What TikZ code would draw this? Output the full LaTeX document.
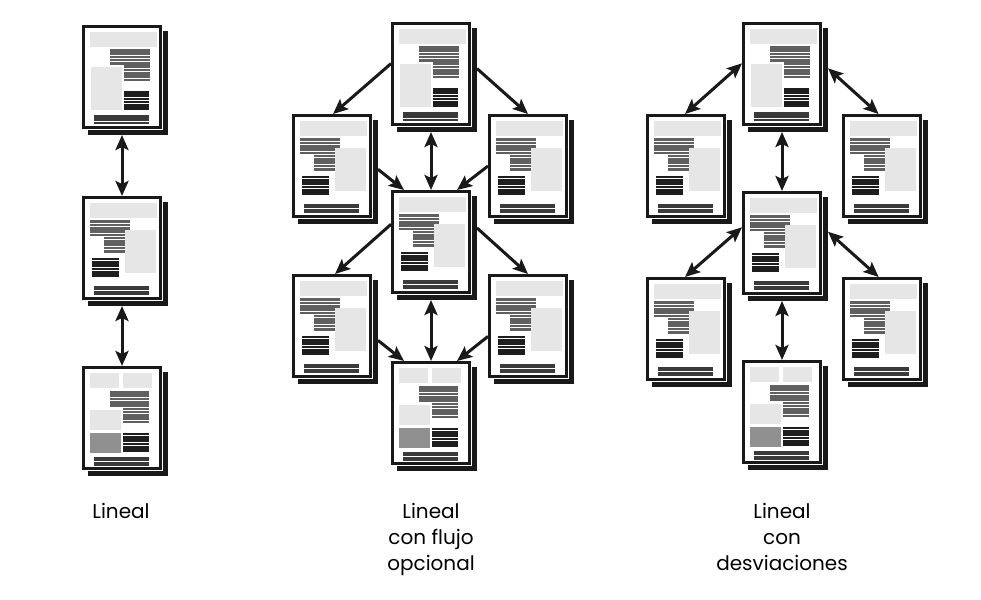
\documentclass[tikz,border=0pt]{standalone}
\usepackage{fontspec}
\setmainfont{Poppins}
\usetikzlibrary{arrows.meta,calc}
\definecolor{hdr}{HTML}{E6E6E6}
\definecolor{txt}{HTML}{606060}
\definecolor{drk}{HTML}{1E1E1E}
\definecolor{ftr}{HTML}{3A3A3A}
\definecolor{midg}{HTML}{909090}
\tikzset{
  pagebox/.style={draw=black!90, line width=3pt, minimum width=77pt, minimum height=101pt, inner sep=0pt},
  arr/.style={line width=3pt, draw=black!90, -{Stealth[length=15pt,width=13pt,inset=3pt]}},
  dbl/.style={line width=3pt, draw=black!90, {Stealth[length=15pt,width=13pt,inset=3pt]}-{Stealth[length=15pt,width=13pt,inset=3pt]}},
  lbl/.style={font=\fontsize{20}{26}\selectfont, anchor=base, inner sep=0pt}
}
% x1 x2 y0 n color spacing height
\newcommand\mylines[7]{%
  \foreach \i in {1,...,#4}{\fill[#5] (#1,{#3+(\i-1)*#6}) rectangle (#2,{#3+(\i-1)*#6+#7});}}
\newcommand\pageframe[3]{%
  \fill[black!90] (#2+6,#3+6) rectangle (#2+86,#3+110);
  \fill[white] (#2-0.8,#3-0.8) rectangle (#2+80.8,#3+104.8);
  \node[pagebox] (#1) at (#2+40,#3+52) {};}
\newcommand\pgA[3]{\pageframe{#1}{#2}{#3}
  \begin{scope}[shift={(#2,#3)}]
  \fill[hdr] (8.3,7) rectangle (75,21.7);
  \mylines{27.6}{68.3}{24}{5}{txt}{3.3}{2.6}
  \mylines{42}{68.3}{40.5}{5}{txt}{3.3}{2.6}
  \fill[hdr] (9.3,42) rectangle (40,85.5);
  \mylines{41.6}{67.3}{66}{6}{drk}{3.3}{2.6}
  \mylines{11.6}{67.3}{89.5}{4}{ftr}{2.4}{2.0}
  \end{scope}}
\newcommand\pgB[3]{\pageframe{#1}{#2}{#3}
  \begin{scope}[shift={(#2,#3)}]
  \fill[hdr] (8.3,7) rectangle (75,21.7);
  \fill[hdr] (43.3,34.3) rectangle (74,76.7);
  \mylines{8.3}{48.3}{24.3}{3}{txt}{3.3}{2.6}
  \mylines{8.3}{43.3}{34.2}{2}{txt}{3.3}{2.6}
  \mylines{21.6}{43.3}{40.8}{5}{txt}{3.3}{2.6}
  \mylines{10}{36.7}{61.7}{6}{drk}{3.3}{2.6}
  \mylines{11.6}{67.3}{90}{4}{ftr}{2.4}{2.0}
  \end{scope}}
\newcommand\pgC[3]{\pageframe{#1}{#2}{#3}
  \begin{scope}[shift={(#2,#3)}]
  \fill[hdr] (8.3,7) rectangle (37.3,22);
  \fill[hdr] (40.6,7) rectangle (70,22);
  \mylines{27.6}{67.3}{25}{5}{txt}{3.3}{2.6}
  \mylines{41}{67.3}{41.5}{5}{txt}{3.3}{2.6}
  \fill[hdr] (8.3,44.3) rectangle (39,64.3);
  \fill[midg] (8.3,67.3) rectangle (39,87.3);
  \mylines{41}{67.3}{66.7}{6}{drk}{3.3}{2.6}
  \mylines{11.6}{67.3}{90.7}{4}{ftr}{2.4}{2.0}
  \end{scope}}
\begin{document}
\begin{tikzpicture}[x=1pt,y=-1pt]
\useasboundingbox (0,0) rectangle (981,599);
\fill[white] (0,0) rectangle (981,599);
% column 1
\pgA{P1}{82}{25}
\pgB{P2}{82}{196}
\pgC{P3}{82}{366}
\draw[dbl] ([yshift=-6pt]P1.south) -- (P2.north);
\draw[dbl] ([yshift=-6pt]P2.south) -- (P3.north);
% column 2
\pgA{T2}{391}{22}
\pgB{L2a}{292}{114}
\pgB{R2a}{488}{114}
\pgB{C2}{391}{190}
\pgB{L2b}{292}{274}
\pgB{R2b}{488}{274}
\pgC{B2}{391}{361}
\draw[arr] ([yshift=10.4pt]T2.west) -- ([xshift=1pt]L2a.north);
\draw[arr] ([xshift=6pt,yshift=5.4pt]T2.east) -- (R2a.north);
\draw[dbl] ([yshift=-6pt]T2.south) -- (C2.north);
\draw[arr] ([xshift=6pt,yshift=-3.3pt]L2a.east) -- ([xshift=13pt]C2.north west);
\draw[arr] (R2a.west) -- ([xshift=-14pt]C2.north east);
\draw[arr] ([yshift=17.7pt]C2.west) -- ([xshift=3pt]L2b.north);
\draw[arr] ([xshift=6pt,yshift=14pt]C2.east) -- (R2b.north);
\draw[dbl] ([yshift=-6pt]C2.south) -- (B2.north);
\draw[arr] ([xshift=6pt,yshift=-14.4pt]L2b.east) -- ([xshift=13pt]B2.north west);
\draw[arr] ([yshift=-10.4pt]R2b.west) -- ([xshift=-14pt]B2.north east);
% column 3
\pgA{T3}{742}{22}
\pgB{L3a}{646}{114}
\pgB{R3a}{842}{114}
\pgB{C3}{742}{191}
\pgB{L3b}{646}{277}
\pgB{R3b}{842}{277}
\pgC{B3}{742}{360}
\draw[dbl] ([yshift=10.7pt]T3.west) -- ([xshift=-1pt]L3a.north);
\draw[dbl] ([xshift=6pt,yshift=5.7pt]T3.east) -- ([xshift=-3.4pt]R3a.north);
\draw[dbl] ([yshift=-6pt]T3.south) -- (C3.north);
\draw[dbl] ([yshift=15.7pt]C3.west) -- ([xshift=-1pt]L3b.north);
\draw[dbl] ([xshift=6pt,yshift=11.3pt]C3.east) -- ([xshift=-3.4pt]R3b.north);
\draw[dbl] ([yshift=-6pt]C3.south) -- (B3.north);
% labels
\node[lbl] (t1) at (121,518) {Lineal};
\node[lbl] (t2a) at (431,518) {Lineal};
\node[lbl] (t2b) at (431,544) {con flujo};
\node[lbl] (t2c) at (431,570) {opcional};
\node[lbl] (t3a) at (782,518) {Lineal};
\node[lbl] (t3b) at (782,544) {con};
\node[lbl] (t3c) at (782,570) {desviaciones};
\end{tikzpicture}
\end{document}
